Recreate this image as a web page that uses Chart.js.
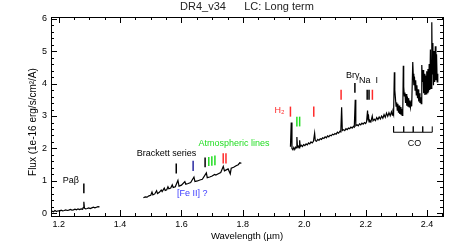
<!DOCTYPE html>
<html>
<head>
<meta charset="utf-8">
<script src="https://cdn.jsdelivr.net/npm/chart.js@4.4.0/dist/chart.umd.min.js"></script>
<style>
  html, body { margin: 0; padding: 0; background: #fff; }
  canvas { display: block; }
</style>
</head>
<body>
<canvas id="specChart" width="457" height="249"></canvas>
<script>
// J band piece of the spectrum (micron, 1e-16 erg/s/cm2/A)
const jWave = [1.178, 1.183, 1.188, 1.193, 1.198, 1.203, 1.208, 1.213, 1.218, 1.223, 1.228, 1.233,
  1.238, 1.243, 1.248, 1.253, 1.258, 1.263, 1.268, 1.273, 1.278, 1.280, 1.282, 1.284, 1.288, 1.293,
  1.298, 1.303, 1.308, 1.313, 1.318, 1.323, 1.328, 1.333];
const jFlux = [0.07, 0.05, 0.09, 0.06, 0.08, 0.07, 0.10, 0.08, 0.09, 0.11, 0.09, 0.10,
  0.12, 0.10, 0.11, 0.13, 0.11, 0.14, 0.12, 0.14, 0.13, 0.18, 0.36, 0.16, 0.14, 0.15,
  0.17, 0.15, 0.17, 0.19, 0.17, 0.19, 0.21, 0.20];

// H band piece
const hWave = [1.476, 1.482, 1.488, 1.494, 1.500, 1.504, 1.507, 1.513, 1.519, 1.522, 1.528, 1.534,
  1.537, 1.544, 1.547, 1.552, 1.556, 1.559, 1.565, 1.570, 1.573, 1.580, 1.5885, 1.592, 1.600, 1.611,
  1.614, 1.622, 1.630, 1.6407, 1.644, 1.652, 1.660, 1.668, 1.6811, 1.684, 1.692, 1.700, 1.708, 1.712,
  1.720, 1.728, 1.7362, 1.740, 1.746, 1.752, 1.759, 1.762, 1.770, 1.778, 1.785, 1.790, 1.795];
const hFlux = [0.48, 0.51, 0.50, 0.54, 0.56, 0.66, 0.57, 0.60, 0.70, 0.61, 0.65, 0.72,
  0.67, 0.78, 0.71, 0.73, 0.82, 0.76, 0.78, 0.88, 0.80, 0.82, 1.02, 0.84, 0.87, 0.98,
  0.90, 0.92, 0.95, 1.12, 0.98, 1.00, 1.03, 1.05, 1.25, 1.10, 1.12, 1.15, 1.20, 1.18,
  1.22, 1.26, 1.45, 1.31, 1.34, 1.37, 1.22, 1.39, 1.42, 1.47, 1.50, 1.56, 1.54];

// K band piece
const kWave = [1.955, 1.9576, 1.960, 1.963, 1.966, 1.969, 1.972, 1.974, 1.976, 1.978, 1.981, 1.983,
  1.985, 1.987, 1.990, 1.994, 1.998, 2.002, 2.006, 2.010, 2.014, 2.018, 2.022, 2.026, 2.030, 2.0338,
  2.036, 2.040, 2.044, 2.048, 2.052, 2.056, 2.060, 2.064, 2.068, 2.072, 2.076, 2.080, 2.084, 2.088,
  2.092, 2.096, 2.100, 2.104, 2.108, 2.112, 2.116, 2.119, 2.1218, 2.124, 2.128, 2.132, 2.136, 2.140,
  2.144, 2.148, 2.152, 2.156, 2.160, 2.163, 2.1661, 2.168, 2.172, 2.176, 2.180, 2.184, 2.188, 2.192,
  2.196, 2.200, 2.203, 2.2062, 2.208, 2.209, 2.211, 2.214, 2.217, 2.2215, 2.224, 2.228, 2.232, 2.236,
  2.240, 2.244, 2.248, 2.252, 2.256, 2.260, 2.264, 2.268, 2.272, 2.276, 2.280, 2.284, 2.287,
  2.289, 2.291, 2.2935, 2.295, 2.297, 2.299, 2.301, 2.303, 2.305, 2.307, 2.309, 2.311, 2.313, 2.315,
  2.317, 2.319, 2.321, 2.3227, 2.324, 2.326, 2.328, 2.330, 2.332, 2.334, 2.336, 2.338, 2.340, 2.342,
  2.344, 2.346, 2.348, 2.350, 2.3535, 2.355, 2.357, 2.359, 2.361, 2.363, 2.365, 2.367, 2.369, 2.371,
  2.373, 2.375, 2.377, 2.379, 2.381, 2.3829, 2.385, 2.387, 2.389, 2.391, 2.393, 2.395, 2.397, 2.399,
  2.401, 2.403, 2.405, 2.407, 2.409, 2.411, 2.413, 2.4155, 2.417, 2.419, 2.421, 2.423, 2.425, 2.427,
  2.429, 2.431, 2.433, 2.435];
const kFlux = [2.05, 2.80, 2.00, 1.96, 2.03, 1.97, 2.04, 2.02, 2.35, 2.04, 2.07, 2.02,
  2.25, 2.06, 2.10, 2.06, 2.12, 2.09, 2.14, 2.11, 2.17, 2.14, 2.20, 2.17, 2.22, 2.47,
  2.24, 2.22, 2.28, 2.25, 2.30, 2.28, 2.33, 2.31, 2.36, 2.33, 2.39, 2.36, 2.41, 2.39,
  2.44, 2.42, 2.46, 2.44, 2.50, 2.47, 2.53, 2.51, 3.27, 2.55, 2.58, 2.55, 2.61, 2.58,
  2.63, 2.61, 2.66, 2.63, 2.68, 2.66, 3.50, 2.70, 2.73, 2.70, 2.76, 2.73, 2.78, 2.75,
  2.80, 2.77, 2.82, 3.17, 2.88, 3.05, 2.82, 2.86, 2.82, 3.00, 2.85, 2.90, 2.86, 2.95,
  2.89, 2.97, 2.91, 3.00, 2.93, 3.04, 2.96, 3.09, 2.99, 3.10, 3.01, 3.13, 3.03,
  3.12, 3.05, 4.35, 3.80, 3.55, 3.30, 3.42, 3.18, 3.38, 3.10, 3.32, 3.06, 3.28, 3.04,
  3.22, 3.02, 3.15, 4.55, 3.90, 3.62, 3.72, 3.40, 3.68, 3.32, 3.60, 3.30, 3.55, 3.28,
  3.48, 3.27, 3.40, 3.30, 4.66, 4.30, 3.95, 4.22, 3.80, 4.10, 3.65, 3.95, 3.55, 3.82,
  3.45, 3.70, 3.40, 3.58, 3.38, 4.57, 4.05, 4.42, 3.70, 4.30, 3.65, 4.25, 3.68, 4.38,
  3.72, 4.45, 3.75, 4.60, 3.80, 5.05, 3.85, 5.89, 4.30, 5.25, 3.95, 5.00, 4.05, 5.15,
  4.10, 4.90, 4.05, 4.30];

const xTicks = [1.2, 1.4, 1.6, 1.8, 2.0, 2.2, 2.4];
const yTicks = [0, 1, 2, 3, 4, 5, 6];

// identified lines: wavelength, bottom and top of the tick mark, kind
const markerWave = [1.282, 1.583, 1.638, 1.677, 1.689, 1.699, 1.709, 1.736, 1.745,
  1.955, 1.976, 1.985, 2.031, 2.120, 2.165, 2.205, 2.211, 2.222];
const markerLow = [0.62, 1.23, 1.31, 1.42, 1.46, 1.47, 1.48, 1.54, 1.54,
  2.98, 2.68, 2.68, 2.98, 3.50, 3.72, 3.50, 3.50, 3.50];
const markerHigh = [0.92, 1.54, 1.62, 1.72, 1.74, 1.76, 1.78, 1.85, 1.85,
  3.29, 2.98, 2.98, 3.29, 3.81, 4.02, 3.81, 3.81, 3.81];
const markerKind = ['hi', 'hi', 'feii', 'hi', 'atm', 'atm', 'atm', 'h2', 'h2',
  'h2', 'atm', 'atm', 'h2', 'h2', 'hi', 'hi', 'hi', 'h2'];

// CO bandhead comb
const coWave = [2.291, 2.324, 2.355, 2.386, 2.417];
const coBase = 2.50;
const coTop = 2.68;

// annotations
const labelText = ['Paβ', 'Brackett series', '[Fe II] ?', 'Atmospheric lines', 'H₂', 'Brγ', 'Na  I', 'CO'];
const labelWave = [1.240, 1.551, 1.635, 1.771, 1.919, 2.158, 2.209, 2.359];
const labelFlux = [1.02, 1.85, 0.62, 2.15, 3.17, 4.25, 4.09, 2.16];
const labelKind = ['hi', 'hi', 'feii', 'atm', 'h2', 'hi', 'hi', 'hi'];

const kindColor = { hi: '#000000', feii: '#2a2aa0', atm: '#22dd22', h2: '#ff2b2b' };
const textColor = { hi: '#000000', feii: '#3a3aff', atm: '#22dd22', h2: '#ff2b2b' };

const FONT = "'Liberation Sans', Arial, sans-serif";

const toPoints = (w, f) => w.map((x, i) => ({ x: x, y: f[i] }));

const lineSet = (points, color, width) => ({
    data: points,
    borderColor: color,
    borderWidth: width,
    pointRadius: 0,
    tension: 0,
    fill: false
});

const datasets = [
    lineSet(toPoints(jWave, jFlux), '#000', 1.2),
    lineSet(toPoints(hWave, hFlux), '#000', 1.2),
    lineSet(toPoints(kWave, kFlux), '#000', 1.2)
];

markerWave.forEach((w, i) => {
    datasets.push(lineSet([{ x: w, y: markerLow[i] }, { x: w, y: markerHigh[i] }],
        kindColor[markerKind[i]], 1.5));
});

const coPoints = [];
coWave.forEach((w, i) => {
    if (i > 0) coPoints.push({ x: w, y: coBase });
    coPoints.push({ x: w, y: coTop });
    if (i < coWave.length - 1) coPoints.push({ x: w, y: coBase });
});
datasets.push(lineSet(coPoints, '#000', 1));

// IDL style box with inward ticks on all sides
const framePlugin = {
    id: 'frame',
    afterDatasetsDraw(chart) {
        const { ctx, chartArea: a, scales: { x, y } } = chart;
        ctx.save();
        ctx.strokeStyle = '#000';
        ctx.lineWidth = 1;
        ctx.strokeRect(a.left + 0.5, a.top + 0.5, a.right - a.left, a.bottom - a.top);
        ctx.beginPath();
        const xTick = (v, len) => {
            const px = Math.round(x.getPixelForValue(v)) + 0.5;
            ctx.moveTo(px, a.bottom); ctx.lineTo(px, a.bottom - len);
            ctx.moveTo(px, a.top); ctx.lineTo(px, a.top + len);
        };
        const yTick = (v, len) => {
            const py = Math.round(y.getPixelForValue(v)) + 0.5;
            ctx.moveTo(a.left, py); ctx.lineTo(a.left + len, py);
            ctx.moveTo(a.right, py); ctx.lineTo(a.right - len, py);
        };
        for (let k = 0; 1.2 + k * 0.05 <= x.max; k++) xTick(1.2 + k * 0.05, 3);
        xTicks.forEach(v => xTick(v, 6));
        for (let k = 0; k * 0.2 <= y.max; k++) yTick(k * 0.2, 3);
        yTicks.forEach(v => yTick(v, 6));
        ctx.stroke();
        ctx.restore();
    }
};

const labelPlugin = {
    id: 'lineLabels',
    afterDatasetsDraw(chart) {
        const { ctx, scales: { x, y } } = chart;
        ctx.save();
        ctx.font = '9px ' + FONT;
        ctx.textAlign = 'center';
        ctx.textBaseline = 'middle';
        labelText.forEach((t, i) => {
            ctx.fillStyle = textColor[labelKind[i]];
            ctx.fillText(t, x.getPixelForValue(labelWave[i]), y.getPixelForValue(labelFlux[i]));
        });
        ctx.restore();
    }
};

const createSpectrumChart = () => {
    const ctx = document.getElementById('specChart').getContext('2d');
    new Chart(ctx, {
        type: 'line',
        data: { datasets: datasets },
        plugins: [framePlugin, labelPlugin],
        options: {
            responsive: false,
            animation: false,
            devicePixelRatio: 1,
            layout: { padding: { left: 0, right: 14, top: 0, bottom: 0 } },
            plugins: {
                legend: { display: false },
                tooltip: { enabled: false },
                title: {
                    display: true,
                    text: 'DR4_v34      LC: Long term',
                    fullSize: false,
                    color: '#222',
                    font: { family: FONT, size: 11, weight: 'normal', lineHeight: 1.1 },
                    padding: { top: 1.4, bottom: 3.5 }
                }
            },
            scales: {
                x: {
                    type: 'linear',
                    min: 1.175,
                    max: 2.452,
                    grid: { display: false, drawTicks: false },
                    border: { display: false },
                    afterBuildTicks: (s) => { s.ticks = xTicks.map(v => ({ value: v })); },
                    afterFit: (s) => { s.height = 33; },
                    ticks: {
                        autoSkip: false,
                        maxRotation: 0,
                        padding: 3,
                        color: '#000',
                        font: { family: FONT, size: 9 },
                        callback: (v) => Number(v).toFixed(1)
                    },
                    title: {
                        display: true,
                        text: 'Wavelength (µm)',
                        color: '#000',
                        font: { family: FONT, size: 9.5 },
                        padding: { top: 0, bottom: 7.3 }
                    }
                },
                y: {
                    type: 'linear',
                    min: -0.08,
                    max: 6.05,
                    grid: { display: false, drawTicks: false },
                    border: { display: false },
                    afterBuildTicks: (s) => { s.ticks = yTicks.map(v => ({ value: v })); },
                    afterFit: (s) => { s.width = 51; },
                    ticks: {
                        autoSkip: false,
                        padding: 4,
                        color: '#000',
                        font: { family: FONT, size: 9 },
                        callback: (v) => String(v)
                    },
                    title: {
                        display: true,
                        text: 'Flux (1e-16 erg/s/cm²/A)    ',
                        color: '#000',
                        font: { family: FONT, size: 10 },
                        padding: { top: 27, bottom: 0 }
                    }
                }
            }
        }
    });
};

document.addEventListener('DOMContentLoaded', function() {
    createSpectrumChart();
});
</script>
</body>
</html>
